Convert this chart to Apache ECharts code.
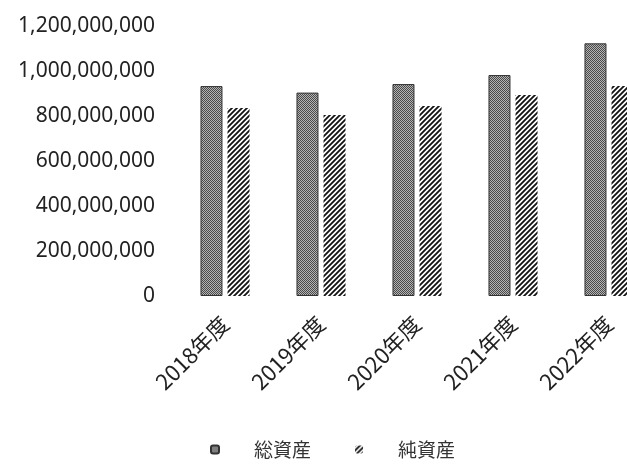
<!DOCTYPE html>
<html><head><meta charset="utf-8">
<script src="https://cdn.jsdelivr.net/npm/echarts@6/dist/echarts.min.js"></script>
<style>html,body{margin:0;padding:0;background:#fff}#c{width:627px;height:466px}</style>
</head><body><div id="c"></div>
<script>
const categories = ['2018年度','2019年度','2020年度','2021年度','2022年度'];
const totalAssets = [933000000, 904000000, 942000000, 982000000, 1123000000];
const netAssets = [836000000, 804000000, 844000000, 893000000, 933000000];
const seriesNames = ['総資産','純資産'];

function makePattern(kind){
  const c = document.createElement('canvas');
  if(kind==='hatch'){
    c.width = 5; c.height = 5;
    const g = c.getContext('2d');
    g.fillStyle='#fff'; g.fillRect(0,0,5,5);
    g.strokeStyle='#111'; g.lineWidth=1.8;
    g.beginPath();
    g.moveTo(-1,6); g.lineTo(6,-1);
    g.moveTo(-3.5,3.5); g.lineTo(3.5,-3.5);
    g.moveTo(1.5,8.5); g.lineTo(8.5,1.5);
    g.stroke();
  } else {
    c.width = 2; c.height = 2;
    const g = c.getContext('2d');
    g.fillStyle='#b4b4b4'; g.fillRect(0,0,2,2);
    g.fillStyle='#4a4a4a';
    g.fillRect(0,0,1,1); g.fillRect(1,1,1,1);
  }
  return {image:c, repeat:'repeat'};
}

const chart = echarts.init(document.getElementById('c'), null, {renderer:'canvas'});
chart.setOption({
  animation:false,
  backgroundColor:'#fff',
  grid:{left:177, width:480, top:26, bottom:170, containLabel:false, outerBoundsMode:'none'},
  legend:{
    bottom:2, left:205,
    itemWidth:8, itemHeight:8, itemGap:44,
    textStyle:{fontSize:19, color:'#333', fontFamily:'Noto Sans CJK JP', padding:[0,0,0,30]},
    data:seriesNames
  },
  xAxis:{
    type:'category', data:categories,
    axisLine:{show:false}, axisTick:{show:false},
    axisLabel:{rotate:45, fontSize:22, color:'#222', margin:24, fontFamily:'Noto Sans CJK JP', interval:0}
  },
  yAxis:{
    type:'value', min:0, max:1200000000, interval:200000000,
    splitLine:{show:false}, axisLine:{show:false}, axisTick:{show:false},
    axisLabel:{fontSize:21, color:'#222', margin:22, fontFamily:'Noto Sans',
      formatter:v=>v.toLocaleString('en-US')}
  },
  series:[
    {name:seriesNames[0], type:'bar', data:totalAssets, barWidth:22, barGap:'23%',
     itemStyle:{color:makePattern('dots'), borderColor:'#333', borderWidth:1}},
    {name:seriesNames[1], type:'bar', data:netAssets, barWidth:22,
     itemStyle:{color:makePattern('hatch'), borderWidth:0}}
  ]
});
</script></body></html>
